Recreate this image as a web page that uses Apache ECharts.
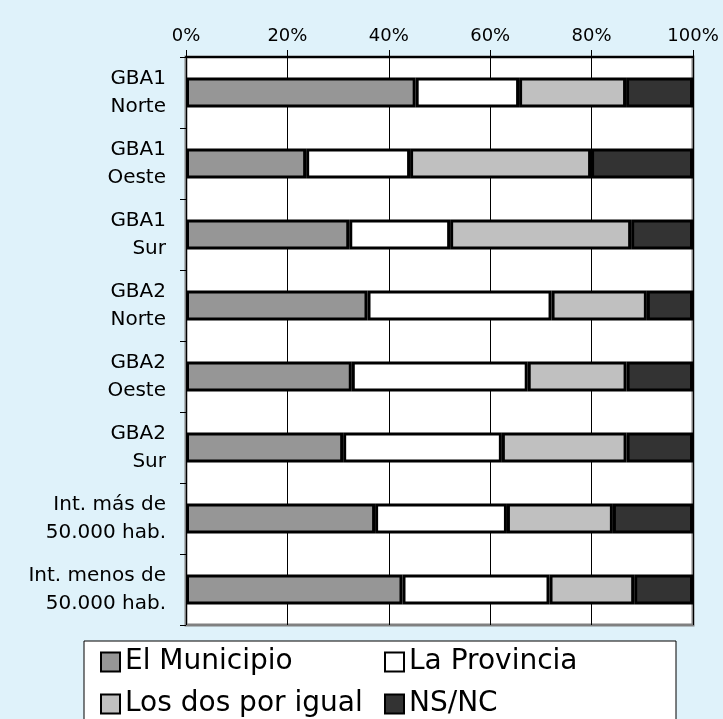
<!DOCTYPE html>
<html>
<head>
<meta charset="utf-8">
<script src="https://cdn.jsdelivr.net/npm/echarts@6/dist/echarts.min.js"></script>
<style>
html,body{margin:0;padding:0;background:#dff2fa;}
#c{width:723px;height:719px;}
</style>
</head>
<body>
<div id="c"></div>
<script>
const categories = ['GBA1\nNorte', 'GBA1\nOeste', 'GBA1\nSur', 'GBA2\nNorte', 'GBA2\nOeste', 'GBA2\nSur', 'Int. más de\n50.000 hab.', 'Int. menos de\n50.000 hab.'];
const seriesNames = ['El Municipio', 'La Provincia', 'Los dos por igual', 'NS/NC'];
const municipio = [45.3, 23.7, 32.2, 35.8, 32.7, 31.0, 37.3, 42.7];
const provincia = [20.4, 20.5, 19.9, 36.3, 34.7, 31.3, 26.0, 29.0];
const ambos = [21.1, 35.7, 35.7, 18.8, 19.5, 24.6, 20.9, 16.7];
const nsnc = [13.2, 20.1, 12.2, 9.1, 13.1, 13.1, 15.8, 11.6];
const colors = ['#969696', '#ffffff', '#c0c0c0', '#333333'];
const values = [municipio, provincia, ambos, nsnc];

const chart = echarts.init(document.getElementById('c'));
chart.setOption({
  animation: false,
  backgroundColor: '#dff2fa',
  textStyle: { fontFamily: 'DejaVu Sans' },
  grid: {
    left: 186, right: 30, top: 57, bottom: 94,
    show: true, backgroundColor: '#ffffff', borderColor: '#808080', borderWidth: 3
  },
  xAxis: {
    type: 'value', position: 'top', min: 0, max: 100, interval: 20,
    axisLabel: { formatter: '{value}%', fontSize: 18, color: '#000', margin: 12, fontFamily: 'DejaVu Sans' },
    axisLine: { show: true, lineStyle: { color: '#000', width: 2 } },
    axisTick: { show: true, length: 7, lineStyle: { color: '#000', width: 1 } },
    splitLine: { show: true, lineStyle: { color: '#000', width: 1 } }
  },
  yAxis: {
    type: 'category', data: categories, inverse: true,
    axisLabel: { fontSize: 20, color: '#000', lineHeight: 28, margin: 20, align: 'right', fontFamily: 'DejaVu Sans' },
    axisLine: { show: false },
    axisTick: { show: true, length: 6, lineStyle: { color: '#000', width: 1 } },
    splitLine: { show: false }
  },
  legend: {
    data: seriesNames,
    left: 84, top: 641, width: 556,
    orient: 'horizontal',
    backgroundColor: '#ffffff', borderColor: '#000', borderWidth: 1,
    padding: [7, 22, 20, 16],
    itemWidth: 19, itemHeight: 19, itemGap: 14,
    icon: 'rect',
    itemStyle: { borderColor: '#000', borderWidth: 2 },
    textStyle: { fontSize: 28, color: '#000', width: 245, fontFamily: 'DejaVu Sans', lineHeight: 27 }
  },
  series: values.map((v, i) => ({
    name: seriesNames[i], type: 'bar', stack: 'total', data: v,
    barWidth: 30,
    itemStyle: { color: colors[i], borderColor: '#000', borderWidth: 3 }
  }))
});
</script>
</body>
</html>
